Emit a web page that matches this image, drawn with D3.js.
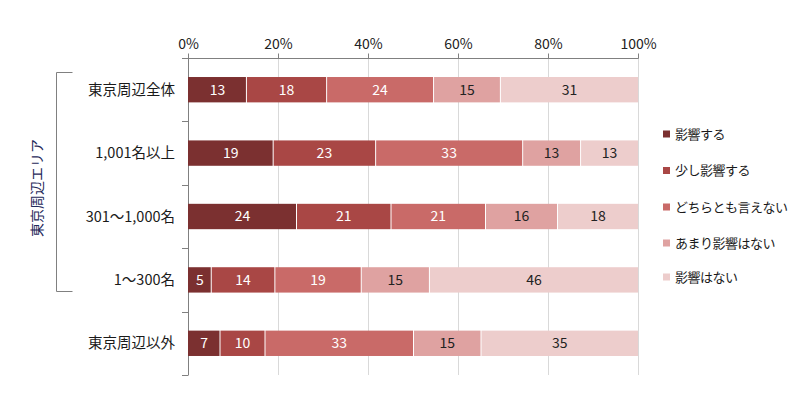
<!DOCTYPE html>
<html><head><meta charset="utf-8">
<script src="https://cdn.jsdelivr.net/npm/d3@7"></script>
<style>body{margin:0;background:#fff}svg{display:block;font-family:"Noto Sans CJK JP","Noto Sans",sans-serif}</style>
</head><body><svg id="c" width="802" height="395"></svg>
<script>
const categories = ["東京周辺全体","1,001名以上","301～1,000名","1～300名","東京周辺以外"];
const seriesNames = ["影響する","少し影響する","どちらとも言えない","あまり影響はない","影響はない"];
const s1 = [13,19,24,5,7];
const s2 = [18,23,21,14,10];
const s3 = [24,33,21,19,33];
const s4 = [15,13,16,15,15];
const s5 = [31,13,18,46,35];
const tickLabels = ["0%","20%","40%","60%","80%","100%"];
const colors = ["#7b3030","#a94745","#c96a68","#dfa2a1","#edcdcc"];
const labelColors = ["#fff","#fff","#fff","#222","#222"];
const groupLabel = "東京周辺エリア";

const svg = d3.select("#c");
const x = d3.scaleLinear().domain([0,1]).range([188,638]);
const y = d3.scaleBand().domain(categories).range([58,375]).paddingInner(0.6).paddingOuter(0.3);
const yb = d3.scaleBand().domain(categories).range([58,375]);

const rows = categories.map((c,i)=>{const o={cat:c}; [s1,s2,s3,s4,s5].forEach((s,j)=>o[seriesNames[j]]=s[i]); return o;});
const stack = d3.stack().keys(seriesNames).offset(d3.stackOffsetExpand)(rows);

// gridlines
svg.append("g").selectAll("line").data([0.2,0.4,0.6,0.8,1]).join("line")
  .attr("x1",d=>Math.round(x(d))+0.5).attr("x2",d=>Math.round(x(d))+0.5).attr("y1",58).attr("y2",375).attr("stroke","#d9d9d9");

// top axis
const xa = d3.axisTop(x).tickValues([0,0.2,0.4,0.6,0.8,1]).tickFormat((d,i)=>tickLabels[i]).tickSize(5).tickPadding(5);
const gx = svg.append("g").attr("transform","translate(0,58.5)").call(xa);
gx.select(".domain").attr("stroke","#808080").attr("d","M182,0H638.5");
gx.selectAll(".tick line").attr("stroke","#808080");
gx.selectAll(".tick text").attr("font-size",14).attr("fill","#222").style("font-family",'"Noto Sans CJK JP",sans-serif');

// left axis
svg.append("line").attr("x1",188.5).attr("x2",188.5).attr("y1",58).attr("y2",375.5).attr("stroke","#808080");
svg.append("g").selectAll("line").data(categories.slice(1).map(c=>yb(c)).concat([375])).join("line")
  .attr("x1",182).attr("x2",188).attr("y1",d=>Math.round(d)+0.5).attr("y2",d=>Math.round(d)+0.5).attr("stroke","#808080");

// bars
stack.forEach((layer,j)=>{
  const g = svg.append("g");
  g.selectAll("rect").data(layer).join("rect")
    .attr("x",d=>x(d[0])+(j>0?1:0)).attr("width",d=>x(d[1])-x(d[0])-(j>0?1:0))
    .attr("y",d=>y(d.data.cat)).attr("height",y.bandwidth()).attr("fill",colors[j]);
  g.selectAll("text").data(layer).join("text")
    .attr("x",d=>(x(d[0])+x(d[1]))/2+0.5).attr("y",d=>y(d.data.cat)+y.bandwidth()/2)
    .attr("dy","0.35em").attr("text-anchor","middle").attr("font-size",14).attr("fill",labelColors[j])
    .text(d=>d.data[seriesNames[j]]);
});

// category labels
svg.append("g").selectAll("text").data(categories).join("text")
  .attr("x",175).attr("y",d=>yb(d)+yb.bandwidth()/2).attr("dy","0.35em").attr("text-anchor","end")
  .attr("font-size",14.5).attr("fill","#1a1a1a").text(d=>d);

// bracket
svg.append("path").attr("d","M72.5,72.5H56.5V291.5H72.5").attr("fill","none").attr("stroke","#808080");
svg.append("text").attr("transform","translate(37,188) rotate(-90)").attr("dy","0.35em").attr("text-anchor","middle")
  .attr("font-size",14).attr("fill","#1f2a5a").text(groupLabel);

// legend
const leg = svg.append("g").selectAll("g").data(seriesNames).join("g")
  .attr("transform",(d,i)=>`translate(663,${[134,170.5,207,243,277][i]})`);
leg.append("rect").attr("x",0).attr("y",-3.5).attr("width",7).attr("height",7).attr("fill",(d,i)=>colors[i]);
leg.append("text").attr("x",12).attr("dy","0.35em").attr("font-size",13).attr("letter-spacing",-0.5).attr("fill","#1a1a1a").text(d=>d);
</script></body></html>
